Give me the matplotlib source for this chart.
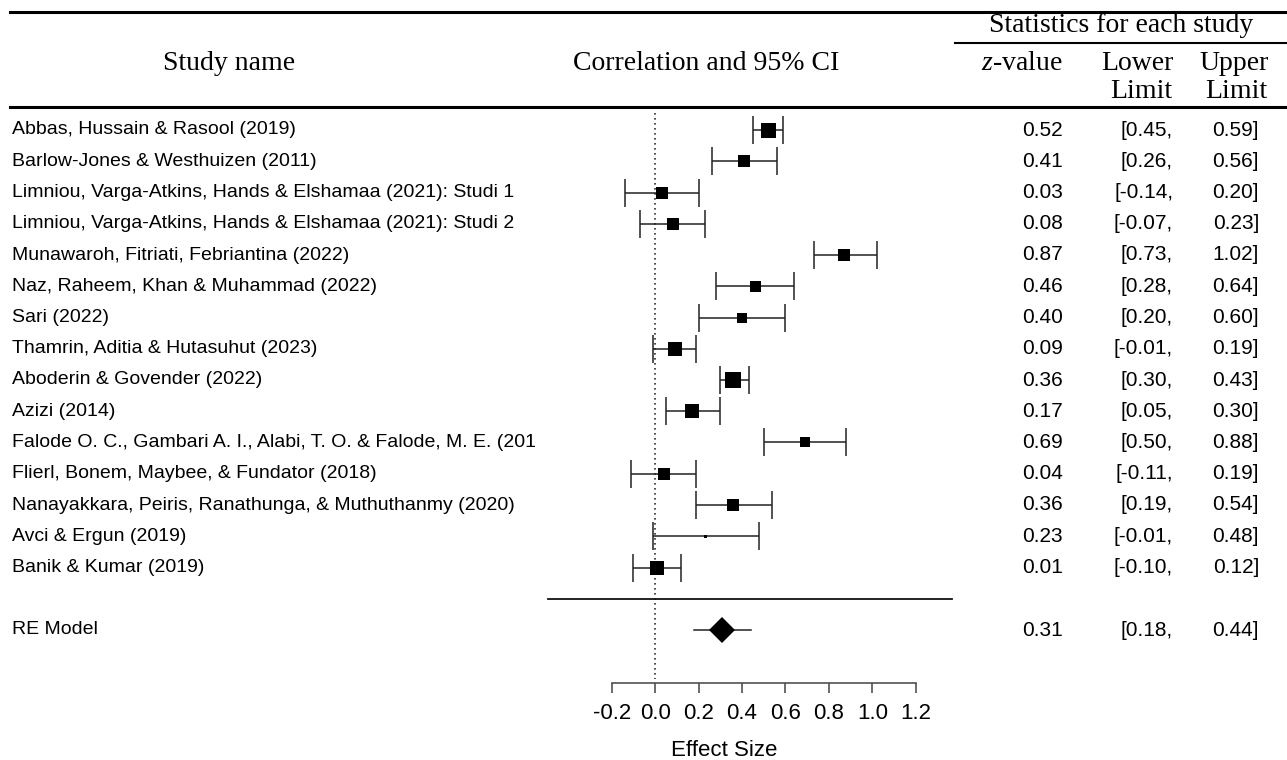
import numpy as np
import matplotlib
matplotlib.use("Agg")
import matplotlib.pyplot as plt

plt.rcParams['mathtext.fontset'] = 'custom'
plt.rcParams['mathtext.it'] = 'Liberation Serif:italic'
plt.rcParams['mathtext.rm'] = 'Liberation Serif'

studies = [
    "Abbas, Hussain & Rasool (2019)",
    "Barlow-Jones & Westhuizen (2011)",
    "Limniou, Varga-Atkins, Hands & Elshamaa (2021): Studi 1",
    "Limniou, Varga-Atkins, Hands & Elshamaa (2021): Studi 2",
    "Munawaroh, Fitriati, Febriantina (2022)",
    "Naz, Raheem, Khan & Muhammad (2022)",
    "Sari (2022)",
    "Thamrin, Aditia & Hutasuhut (2023)",
    "Aboderin & Govender (2022)",
    "Azizi (2014)",
    "Falode O. C., Gambari A. I., Alabi, T. O. & Falode, M. E. (201",
    "Flierl, Bonem, Maybee, & Fundator (2018)",
    "Nanayakkara, Peiris, Ranathunga, & Muthuthanmy (2020)",
    "Avci & Ergun (2019)",
    "Banik & Kumar (2019)",
]
effect = [0.52, 0.41, 0.03, 0.08, 0.87, 0.46, 0.40, 0.09, 0.36, 0.17, 0.69, 0.04, 0.36, 0.23, 0.01]
lower = [0.45, 0.26, -0.14, -0.07, 0.73, 0.28, 0.20, -0.01, 0.30, 0.05, 0.50, -0.11, 0.19, -0.01, -0.10]
upper = [0.59, 0.56, 0.20, 0.23, 1.02, 0.64, 0.60, 0.19, 0.43, 0.30, 0.88, 0.19, 0.54, 0.48, 0.12]
weights = [7.5, 6.0, 6.0, 6.0, 6.1, 5.5, 5.0, 7.0, 7.6, 6.6, 5.0, 6.1, 5.9, 1.5, 6.8]

re_label = "RE Model"
re_effect, re_lower, re_upper = 0.31, 0.18, 0.44

xticks = [-0.2, 0.0, 0.2, 0.4, 0.6, 0.8, 1.0, 1.2]

W, H = 1287, 760
fig = plt.figure(figsize=(W / 100, H / 100), dpi=100)

# forest axes: x from -0.2..1.2 over pixels 611.7..915.7, bottom spine at y=683
x0_px, x1_px = 611.7, 915.7
row0_px, row_step = 130.0, 31.25
axis_px = 683.0
ax = fig.add_axes([x0_px / W, (H - axis_px) / H, (x1_px - x0_px) / W, axis_px / H])
ax.set_xlim(-0.2, 1.2)
ax.set_ylim((axis_px - row0_px) / row_step, -row0_px / row_step)
ax.patch.set_alpha(0)


def fx(px):
    return px / W


def fy(px):
    return 1 - px / H


sans = 'Liberation Sans'
serif = 'Liberation Serif'
rows = np.arange(len(studies))
re_row = len(studies) + 1

# dotted reference line
ax.plot([0, 0], [-0.55, (axis_px - 4 - row0_px) / row_step], ls=(0, (1, 2)), color='#333333',
        lw=1.2, clip_on=False)

# study CIs and squares
err = [np.array(effect) - np.array(lower), np.array(upper) - np.array(effect)]
ax.errorbar(effect, rows, xerr=err, fmt='none', ecolor='#222222', elinewidth=1.1,
            capsize=10, capthick=1.1, clip_on=False)
for r, e, w in zip(rows, effect, weights):
    ax.plot(e, r, 's', color='black', ms=2 * w * 0.72, mec='black', mew=0, clip_on=False)

# separator and RE model
sep_y = len(studies)
blend = matplotlib.transforms.blended_transform_factory(fig.transFigure, ax.transData)
ax.plot([fx(548), fx(952)], [sep_y, sep_y], color='#111111', lw=1.3, transform=blend, clip_on=False)
ax.plot([re_lower, re_upper], [re_row, re_row], color='#222222', lw=1.1, clip_on=False)
ax.plot(re_effect, re_row, 'D', color='black', ms=13, mew=0, clip_on=False)

# study labels and statistics columns
labels = studies + [re_label]
ys = list(rows) + [re_row]
es_all = effect + [re_effect]
lo_all = lower + [re_lower]
hi_all = upper + [re_upper]
for lab, y, e, lo, hi in zip(labels, ys, es_all, lo_all, hi_all):
    ax.text(fx(12), y, lab, transform=blend, ha='left', va='center', family=sans, fontsize=14)
    ax.text(fx(1063), y, f"{e:.2f}", transform=blend, ha='right', va='center', family=sans, fontsize=15)
    ax.text(fx(1173), y, f"[{lo:.2f},", transform=blend, ha='right', va='center', family=sans,
            fontsize=15)
    ax.text(fx(1259), y, f"{hi:.2f}]", transform=blend, ha='right', va='center', family=sans,
            fontsize=15)

# x axis
for side in ['top', 'left', 'right']:
    ax.spines[side].set_visible(False)
ax.spines['bottom'].set_bounds(-0.2, 1.2)
ax.spines['bottom'].set_color('#444444')
ax.spines['bottom'].set_linewidth(1.1)
ax.set_yticks([])
ax.set_xticks(xticks)
ax.set_xticklabels([f"{t:.1f}" for t in xticks], family=sans, fontsize=16)
ax.tick_params(axis='x', direction='out', length=7.5, width=1.1, color='#444444', pad=7)
fig.text(fx(724), fy(750), "Effect Size", ha='center', va='center', family=sans, fontsize=16)

# header
fig.add_artist(plt.Line2D([fx(10), 1], [fy(12), fy(12)], color='black', lw=2.2))
fig.add_artist(plt.Line2D([fx(955), 1], [fy(43), fy(43)], color='black', lw=1.5))
fig.add_artist(plt.Line2D([fx(10), 1], [fy(107), fy(107)], color='black', lw=2.2))
hdr = dict(family=serif, fontsize=20, va='center')
fig.text(fx(1121), fy(26), "Statistics for each study", ha='center', **hdr)
fig.text(fx(229), fy(63), "Study name", ha='center', **hdr)
fig.text(fx(706), fy(63), "Correlation and 95% CI", ha='center', **hdr)
fig.text(fx(1022), fy(63), r"$\mathit{z}$-value", ha='center', **hdr)
fig.text(fx(1137), fy(63), "Lower", ha='center', **hdr)
fig.text(fx(1234), fy(63), "Upper", ha='center', **hdr)
fig.text(fx(1141), fy(91), "Limit", ha='center', **hdr)
fig.text(fx(1236), fy(91), "Limit", ha='center', **hdr)

fig.savefig("out.png", dpi=100)
